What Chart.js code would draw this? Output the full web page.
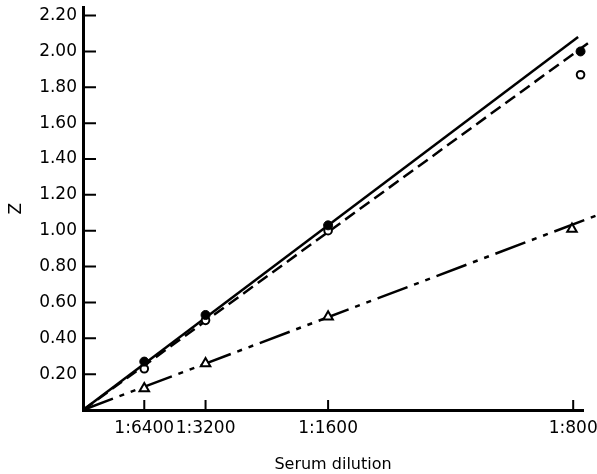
<!DOCTYPE html>
<html>
<head>
<meta charset="utf-8">
<script src="https://cdn.jsdelivr.net/npm/chart.js@4/dist/chart.umd.min.js"></script>
<style>
  html, body { margin: 0; padding: 0; background: #fff; }
  #wrap { width: 597px; height: 474px; }
</style>
</head>
<body>
<div id="wrap"><canvas id="myChart" width="597" height="474"></canvas></div>
<script>
// x is concentration in units of 1/6400
const xTickValues = [1, 2, 4, 8];
const xTickLabels = ['1:6400', '1:3200', '1:1600', '1:800'];
const yTickValues = [0.2, 0.4, 0.6, 0.8, 1.0, 1.2, 1.4, 1.6, 1.8, 2.0, 2.2];

const filledX = [1, 2, 4, 8.12];
const filledY = [0.27, 0.53, 1.03, 2.00];
const openX = [1, 2, 4, 8.12];
const openY = [0.23, 0.50, 1.00, 1.87];
const triX = [1, 2, 4, 7.98];
const triY = [0.12, 0.26, 0.52, 1.01];

const solidLineX = [0, 8.08];
const solidLineY = [0, 2.08];
const dashedLineX = [0, 8.3];
const dashedLineY = [0, 2.06];
const dashDotLineX = [0, 8.42];
const dashDotLineY = [0, 1.09];

const pts = (xs, ys) => xs.map((x, i) => ({ x: x, y: ys[i] }));

// tick marks point inward, like the original
const innerTicks = {
  id: 'innerTicks',
  afterDraw(chart) {
    const ctx = chart.ctx;
    const xs = chart.scales.x, ys = chart.scales.y;
    ctx.save();
    ctx.strokeStyle = '#000';
    ctx.lineWidth = 2;
    ctx.beginPath();
    yTickValues.forEach(v => {
      const py = ys.getPixelForValue(v);
      ctx.moveTo(xs.left, py);
      ctx.lineTo(xs.left + 13, py);
    });
    xTickValues.forEach(v => {
      const px = xs.getPixelForValue(v);
      ctx.moveTo(px, ys.bottom);
      ctx.lineTo(px, ys.bottom - 10);
    });
    ctx.stroke();
    ctx.restore();
  }
};

const tickFont = { family: 'DejaVu Sans', size: 17 };

const ctx = document.getElementById('myChart').getContext('2d');
new Chart(ctx, {
  type: 'scatter',
  data: {
    datasets: [
      {
        data: pts(filledX, filledY), clip: false,
        pointStyle: 'circle', pointRadius: 4.5,
        pointBackgroundColor: '#000', pointBorderColor: '#000', pointBorderWidth: 1
      },
      {
        data: pts(openX, openY), clip: false,
        pointStyle: 'circle', pointRadius: 3.8,
        pointBackgroundColor: '#fff', pointBorderColor: '#000', pointBorderWidth: 2
      },
      {
        data: pts(triX, triY), clip: false,
        pointStyle: 'triangle', pointRadius: 5.5,
        pointBackgroundColor: '#fff', pointBorderColor: '#000', pointBorderWidth: 2
      },
      {
        data: pts(solidLineX, solidLineY),
        showLine: true, pointRadius: 0, borderColor: '#000', borderWidth: 2.5, clip: false
      },
      {
        data: pts(dashedLineX, dashedLineY),
        showLine: true, pointRadius: 0, borderColor: '#000', borderWidth: 2.5,
        borderDash: [12, 6], clip: false
      },
      {
        data: pts(dashDotLineX, dashDotLineY),
        showLine: true, pointRadius: 0, borderColor: '#000', borderWidth: 2.5,
        borderDash: [32, 7, 5, 7, 5, 7], clip: false
      }
    ]
  },
  options: {
    responsive: false,
    animation: false,
    layout: { padding: { top: 7, right: 14, left: 0, bottom: 0 } },
    plugins: {
      legend: { display: false },
      tooltip: { enabled: false }
    },
    scales: {
      x: {
        type: 'linear',
        min: 0,
        max: 8.16,
        afterBuildTicks: scale => { scale.ticks = xTickValues.map(v => ({ value: v })); },
        afterFit: scale => { scale.height = 64; scale.paddingLeft = 0; scale.paddingRight = 0; },
        grid: { display: false, drawTicks: false },
        border: { display: true, color: '#000', width: 3 },
        ticks: {
          padding: 8,
          color: '#000',
          font: tickFont,
          callback: v => xTickLabels[xTickValues.indexOf(v)]
        },
        title: {
          display: true,
          text: 'Serum dilution',
          color: '#000',
          font: { family: 'DejaVu Sans', size: 16 },
          padding: { top: 8, bottom: 0 }
        }
      },
      y: {
        type: 'linear',
        min: 0,
        max: 2.245,
        afterBuildTicks: scale => { scale.ticks = yTickValues.map(v => ({ value: v })); },
        afterFit: scale => { scale.width = 83; scale.paddingTop = 0; scale.paddingBottom = 0; },
        grid: { display: false, drawTicks: false },
        border: { display: true, color: '#000', width: 3 },
        ticks: {
          padding: 6,
          color: '#000',
          font: tickFont,
          callback: v => v.toFixed(2)
        },
        title: {
          display: true,
          text: 'Z',
          color: '#000',
          font: { family: 'DejaVu Sans', size: 17 },
          padding: { top: 6, bottom: 0 }
        }
      }
    }
  },
  plugins: [innerTicks]
});
</script>
</body>
</html>
